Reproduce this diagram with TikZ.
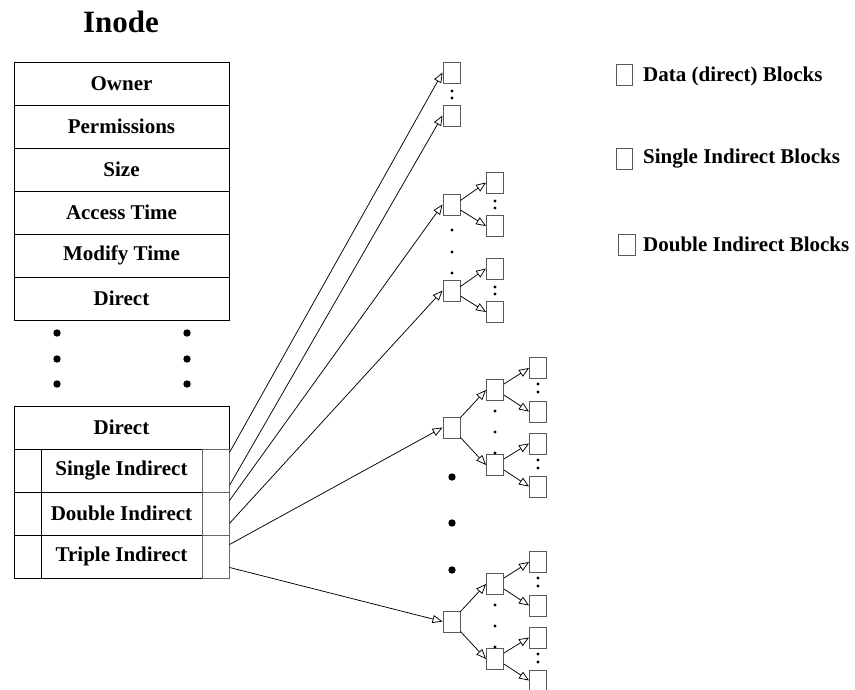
\documentclass[tikz,border=0pt]{standalone}
\usepackage{fontspec}
\setmainfont{Liberation Serif}
\usetikzlibrary{arrows.meta,calc}
\begin{document}
\begin{tikzpicture}[x=1pt,y=-1pt,
  txt/.style={font=\fontsize{21}{25}\selectfont\bfseries},
  row/.style={draw=black,line width=0.9pt,minimum width=215pt,minimum height=43pt,inner sep=0pt,txt},
  mid/.style={draw=black,line width=0.9pt,minimum width=161pt,minimum height=43pt,inner sep=0pt,txt},
  side/.style={draw=black,line width=0.9pt,minimum width=27pt,minimum height=43pt,inner sep=0pt},
  blk/.style={draw=black!65,line width=0.9pt,minimum width=17pt,minimum height=21pt,inner sep=0pt},
  arr/.style={line width=0.75pt,-{Triangle[open,length=10pt,width=8pt]}},
  sdot/.style={radius=1.7pt},
  bdot/.style={radius=3.7pt}
]
\useasboundingbox (0,0) rectangle (855,689);
\clip (0,0) rectangle (855,689);

% title
\node[font=\fontsize{31}{36}\selectfont\bfseries] (title) at (121,22) {Inode};

% inode table (top)
\node[row] (own) at (121.5,83.5) {Owner};
\node[row] (perm) at (121.5,126.5) {Permissions};
\node[row] (size) at (121.5,169.5) {Size};
\node[row] (acc) at (121.5,212.5) {Access Time};
\node[row] (mod) at (121.5,255.5) {Modify Time};
\node[row] (dir1) at (121.5,298.5) {Direct};

% ellipsis dots in table
\foreach \yy in {333,359,384}{
  \fill (57,\yy) circle[bdot];
  \fill (187,\yy) circle[bdot];
}

% inode table (bottom)
\node[row] (dir2) at (121.5,427.5) {Direct};
\node[mid] (si) at (121.5,470.5) {Single Indirect};
\node[side] (siL) at (27.5,470.5) {};
\node[side,draw=black!60] (siR) at (215.5,470.5) {};
\node[mid] (di) at (121.5,513.5) {Double Indirect};
\node[side] (diL) at (27.5,513.5) {};
\node[side,draw=black!60] (diR) at (215.5,513.5) {};
\node[mid] (ti) at (121.5,556.5) {Triple Indirect};
\node[side] (tiL) at (27.5,556.5) {};
\node[side,draw=black!60] (tiR) at (215.5,556.5) {};

% data blocks
\node[blk] (d1) at (451.5,72.5) {};
\node[blk] (d2) at (451.5,115.5) {};
\fill (452,91) circle[sdot];
\fill (452,98) circle[sdot];

% single indirect blocks
\node[blk] (s1) at (451.5,204.5) {};
\node[blk] (s1a) at (495,182.5) {};
\node[blk] (s1b) at (495,226) {};
\node[blk] (s2) at (451.5,290.5) {};
\node[blk] (s2a) at (495,268.5) {};
\node[blk] (s2b) at (495,312) {};
\foreach \yy in {201,208,287,294} \fill (495,\yy) circle[sdot];
\foreach \yy in {230,252,273} \fill (452,\yy) circle[sdot];
\draw[arr] ([yshift=4pt]s1.east) -- (s1a.west);
\draw[arr] ([yshift=-5.5pt]s1.east) -- (s1b.west);
\draw[arr] ([yshift=4pt]s2.east) -- (s2a.west);
\draw[arr] ([yshift=-5.5pt]s2.east) -- (s2b.west);

% double indirect blocks
\foreach \o/\n in {0/a,194/b}{
  \node[blk] (db\n) at (451.5,427.5+\o) {};
  \node[blk] (db\n1) at (495,390+\o) {};
  \node[blk] (db\n2) at (495,465+\o) {};
  \node[blk] (db\n11) at (538,368+\o) {};
  \node[blk] (db\n12) at (538,411.5+\o) {};
  \node[blk] (db\n21) at (538,443.5+\o) {};
  \node[blk] (db\n22) at (538,486.5+\o) {};
  \foreach \yy in {411,432,453} \fill (495,\yy+\o) circle[sdot];
  \foreach \yy in {384,392,460,468} \fill (538,\yy+\o) circle[sdot];
  \draw[arr] ([yshift=-1pt]db\n.north east) -- (db\n1.west);
  \draw[arr] ([yshift=1pt]db\n.south east) -- (db\n2.west);
  \draw[arr] ([yshift=6pt]db\n1.east) -- (db\n11.west);
  \draw[arr] ([yshift=-5pt]db\n1.east) -- (db\n12.west);
  \draw[arr] ([yshift=6pt]db\n2.east) -- (db\n21.west);
  \draw[arr] ([yshift=-5pt]db\n2.east) -- (db\n22.west);
}
\foreach \yy in {477,523,570} \fill (452,\yy) circle[bdot];

% connectors from inode
\draw[arr] ([yshift=-4pt]siR.north east) -- (d1.west);
\draw[arr] ([yshift=7pt]siR.south east) -- (d2.west);
\draw[arr] ([yshift=-9pt]diR.north east) -- (s1.west);
\draw[arr] ([yshift=12pt]diR.south east) -- (s2.west);
\draw[arr] ([yshift=-10pt]tiR.north east) -- (dba.west);
\draw[arr] ([yshift=11pt]tiR.south east) -- (dbb.west);

% legend
\node[blk,minimum width=16pt] (lg1) at (624,75) {};
\node[txt,anchor=west,inner sep=0pt] (lt1) at (643,76) {Data (direct) Blocks};
\node[blk,minimum width=16pt] (lg2) at (624,158.5) {};
\node[txt,anchor=west,inner sep=0pt] (lt2) at (643,159) {Single Indirect Blocks};
\node[blk] (lg3) at (626.5,244.5) {};
\node[txt,anchor=west,inner sep=0pt] (lt3) at (643,244.5) {Double Indirect Blocks};
\end{tikzpicture}
\end{document}
